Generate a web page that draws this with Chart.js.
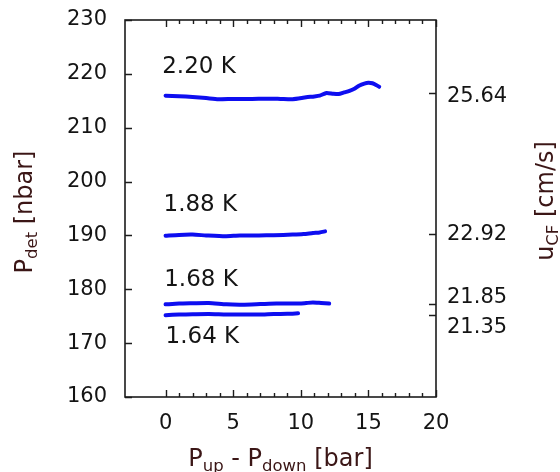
<!DOCTYPE html>
<html>
<head>
<meta charset="utf-8">
<script src="https://cdn.jsdelivr.net/npm/chart.js@4.4.1/dist/chart.umd.min.js"></script>
<style>
  html, body { margin: 0; padding: 0; background: #ffffff; }
  #wrap { width: 560px; height: 472px; }
</style>
</head>
<body>
<div id="wrap"><canvas id="c" width="560" height="472"></canvas></div>
<script>
// Temperatures of the four runs
const temperatures = ['2.20 K', '1.88 K', '1.68 K', '1.64 K'];

// Pressure difference P_up - P_down [bar] for each run
const dp220 = [0, 1, 2, 3, 3.9, 5, 6.4, 7.5, 8.5, 9.4, 10.4, 11, 11.4, 11.9, 12.4, 12.8, 13.2, 13.6, 14.0, 14.3, 14.7, 15.0, 15.3, 15.6, 15.8];
const dp188 = [0, 1, 2, 3, 4.4, 5.5, 6.9, 8, 9.4, 10.2, 10.9, 11.4, 11.8];
const dp168 = [0, 1, 2, 3.2, 4.5, 5.7, 7, 8.2, 9.9, 10.4, 10.9, 11.5, 12.1];
const dp164 = [0, 1, 2, 3.2, 4.5, 5.5, 6.9, 8, 9, 9.8];

// Detector pressure P_det [nbar]
const pdet220 = [215.95, 215.85, 215.7, 215.5, 215.3, 215.35, 215.35, 215.4, 215.35, 215.3, 215.65, 215.8, 215.95, 216.45, 216.3, 216.25, 216.55, 216.85, 217.3, 217.8, 218.2, 218.35, 218.25, 217.9, 217.6];
const pdet188 = [189.95, 190.1, 190.15, 190.0, 189.85, 190.0, 190.0, 190.05, 190.15, 190.25, 190.45, 190.55, 190.75];
const pdet168 = [177.2, 177.35, 177.4, 177.45, 177.2, 177.15, 177.25, 177.35, 177.35, 177.45, 177.55, 177.45, 177.35];
const pdet164 = [175.2, 175.3, 175.35, 175.4, 175.3, 175.3, 175.3, 175.4, 175.45, 175.55];

// Axis ticks
const xTickValues = [0, 5, 10, 15, 20];
const yTickValues = [160, 170, 180, 190, 200, 210, 220, 230];
// Counterflow velocity u_CF [cm/s] marked at the detector pressure of each run
const uTickValues = [216.4, 190.3, 177.3, 175.2];
const uTickLabels = ['25.64', '22.92', '21.85', '21.35'];

const FONT = '"DejaVu Sans", sans-serif';
const TEXT = '#141414';
const TITLE = '#3b1616';
const LINE = 'rgb(14,14,240)';

// where each temperature label sits (data units) and vertical nudges of the u_CF labels (px)
const seriesLabelAnchors = [
  { x: -0.25, y: 221.3 },
  { x: -0.15, y: 195.6 },
  { x: -0.1, y: 181.8 },
  { x: 0.0, y: 171.1 }
];
const uLabelNudge = [3, 1, -6, 12];

function toPoints(xs, ys) { return xs.map((v, i) => ({ x: v, y: ys[i] })); }

// Draws text made of normal and subscript parts
function drawRich(ctx, parts, x, y, size, subSize, align) {
  const measure = parts.map(p => {
    ctx.font = (p.sub ? subSize : size) + 'px ' + FONT;
    return ctx.measureText(p.t).width;
  });
  const total = measure.reduce((a, b) => a + b, 0);
  let cx = align === 'center' ? x - total / 2 : x;
  ctx.textAlign = 'left';
  ctx.textBaseline = 'alphabetic';
  parts.forEach((p, i) => {
    ctx.font = (p.sub ? subSize : size) + 'px ' + FONT;
    ctx.fillText(p.t, cx, y + (p.sub ? 5 : 0));
    cx += measure[i];
  });
}

const framePlugin = {
  id: 'frameAndText',
  afterDraw(chart) {
    const { ctx, chartArea: a } = chart;
    const xs = chart.scales.x, ys = chart.scales.y, y2 = chart.scales.y2;
    ctx.save();

    // frame
    ctx.strokeStyle = '#1c1c1c';
    ctx.lineWidth = 1.6;
    ctx.strokeRect(a.left, a.top, a.right - a.left, a.bottom - a.top);

    // inward tick marks
    ctx.beginPath();
    for (let v = xTickValues[0]; v <= xTickValues[xTickValues.length - 1]; v += 1) {
      const px = Math.round(xs.getPixelForValue(v)) + 0.5;
      const len = xTickValues.includes(v) ? 7 : 4;
      ctx.moveTo(px, a.bottom); ctx.lineTo(px, a.bottom - len);
      ctx.moveTo(px, a.top); ctx.lineTo(px, a.top + len);
    }
    yTickValues.forEach(v => {
      const py = Math.round(ys.getPixelForValue(v)) + 0.5;
      ctx.moveTo(a.left, py); ctx.lineTo(a.left + 7, py);
    });
    uTickValues.forEach(v => {
      const py = Math.round(y2.getPixelForValue(v)) + 0.5;
      ctx.moveTo(a.right, py); ctx.lineTo(a.right - 7, py);
    });
    ctx.lineWidth = 1.4;
    ctx.stroke();

    // u_CF tick labels
    ctx.fillStyle = TEXT;
    ctx.font = '21px ' + FONT;
    ctx.textAlign = 'left';
    ctx.textBaseline = 'middle';
    uTickValues.forEach((v, i) => {
      ctx.fillText(uTickLabels[i], a.right + 11, y2.getPixelForValue(v) + uLabelNudge[i]);
    });

    // temperature labels
    ctx.font = '23px ' + FONT;
    temperatures.forEach((t, i) => {
      const p = seriesLabelAnchors[i];
      ctx.fillText(t, xs.getPixelForValue(p.x), ys.getPixelForValue(p.y));
    });

    // axis titles
    ctx.fillStyle = TITLE;
    drawRich(ctx, [
      { t: 'P' }, { t: 'up', sub: true }, { t: ' - P' }, { t: 'down', sub: true }, { t: ' [bar]' }
    ], (a.left + a.right) / 2, 466, 24, 16.5, 'center');

    ctx.save();
    ctx.translate(32, 212);
    ctx.rotate(-Math.PI / 2);
    drawRich(ctx, [{ t: 'P' }, { t: 'det', sub: true }, { t: ' [nbar]' }], 0, 0, 24, 16.5, 'center');
    ctx.restore();

    ctx.save();
    ctx.translate(553, 201);
    ctx.rotate(-Math.PI / 2);
    drawRich(ctx, [{ t: 'u' }, { t: 'CF', sub: true }, { t: ' [cm/s]' }], 0, 0, 24, 16.5, 'center');
    ctx.restore();

    ctx.restore();
  }
};

const series = [
  toPoints(dp220, pdet220),
  toPoints(dp188, pdet188),
  toPoints(dp168, pdet168),
  toPoints(dp164, pdet164)
];

// fixed axis boxes: no extra room reserved around the value axes
function fixVertical(width) {
  return s => { s.width = width; s.paddingTop = 0; s.paddingBottom = 0; };
}

new Chart(document.getElementById('c'), {
  type: 'line',
  data: {
    datasets: series.map((pts, i) => ({
      label: temperatures[i],
      data: pts,
      borderColor: LINE,
      backgroundColor: LINE,
      borderWidth: 4,
      pointRadius: 0,
      tension: 0.2,
      borderCapStyle: 'round',
      borderJoinStyle: 'round',
      fill: false
    }))
  },
  options: {
    responsive: false,
    animation: false,
    devicePixelRatio: 1,
    layout: { padding: { top: 20, left: 0, right: 0, bottom: 0 } },
    plugins: { legend: { display: false }, tooltip: { enabled: false } },
    scales: {
      x: {
        type: 'linear',
        position: 'bottom',
        min: -3,
        max: 20,
        afterBuildTicks: s => { s.ticks = xTickValues.map(v => ({ value: v })); },
        afterFit: s => { s.height = 75; s.paddingLeft = 0; s.paddingRight = 0; },
        grid: { display: false, drawTicks: false },
        border: { display: false },
        ticks: { font: { family: FONT, size: 21 }, color: TEXT, padding: 14, autoSkip: false, maxRotation: 0 }
      },
      y: {
        type: 'linear',
        position: 'left',
        min: 160,
        max: 230,
        afterBuildTicks: s => { s.ticks = yTickValues.map(v => ({ value: v })); },
        afterFit: fixVertical(125),
        grid: { display: false, drawTicks: false },
        border: { display: false },
        ticks: { font: { family: FONT, size: 21 }, color: TEXT, padding: 18, autoSkip: false }
      },
      y2: {
        type: 'linear',
        position: 'right',
        min: 160,
        max: 230,
        afterBuildTicks: s => { s.ticks = uTickValues.map(v => ({ value: v })); },
        afterFit: fixVertical(124),
        grid: { display: false, drawTicks: false },
        border: { display: false },
        ticks: { display: false }
      }
    }
  },
  plugins: [framePlugin]
});
</script>
</body>
</html>
